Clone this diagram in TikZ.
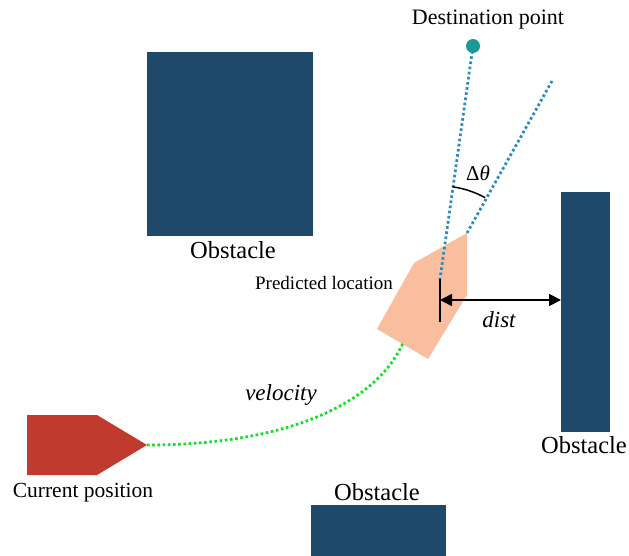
\documentclass[tikz,border=0pt]{standalone}
\usepackage{fontspec}
\setmainfont{Liberation Serif}
\usetikzlibrary{arrows.meta}
\definecolor{obst}{RGB}{30,73,106}
\definecolor{shipred}{RGB}{192,58,46}
\definecolor{salmon}{RGB}{249,190,158}
\definecolor{pathgreen}{RGB}{20,225,40}
\definecolor{rayblue}{RGB}{40,140,195}
\definecolor{goalteal}{RGB}{22,156,148}
\tikzset{
  obstacle/.style={fill=obst, draw=none},
  lbl/.style={inner sep=0pt, font=\fontsize{24.5}{28}\selectfont},
  dotline/.style={line width=2.8pt, dash pattern=on 2.6pt off 2.6pt},
}
\begin{document}
\begin{tikzpicture}[x=1pt, y=-1pt]
  \useasboundingbox (0,0) rectangle (629,556);
  \fill[white] (0,0) rectangle (629,556);

  % obstacles
  \fill[obstacle] (147,52) rectangle (313,236);
  \fill[obstacle] (561,192) rectangle (610,432);
  \fill[obstacle] (311,505) rectangle (446,556);
  \node[lbl] (obsA) at (233,250) {Obstacle};
  \node[lbl] (obsB) at (584,445) {Obstacle};
  \node[lbl] (obsC) at (377,492) {Obstacle};

  % current position
  \fill[shipred] (27,415) -- (97,415) -- (147,445) -- (97,475) -- (27,475) -- cycle;
  \coordinate (cur) at (147,445);
  \node[lbl, font=\fontsize{21.5}{25}\selectfont] (curlbl) at (83,493) {Current position};

  % predicted location
  \fill[salmon] (467,233) -- (467,295) -- (428,359) -- (377,329) -- (414,263) -- cycle;
  \coordinate (pred) at (403,343);
  \coordinate (tip) at (467,233);
  \coordinate (ref) at (440,279);
  \node[lbl, font=\fontsize{19}{23}\selectfont] (predlbl) at (324,283) {Predicted location};

  % velocity path
  \draw[pathgreen, dotline] (cur) .. controls (285,445) and (375,405) .. (pred);
  \node[lbl, font=\fontsize{23}{27}\selectfont\itshape] (vel) at (281,395) {velocity};

  % destination and heading rays
  \fill[goalteal] (473,46) ellipse (7 and 7);
  \coordinate (dest) at (473,46);
  \node[lbl, font=\fontsize{22}{26}\selectfont] (destlbl) at (488,20) {Destination point};
  \draw[rayblue, dotline] (dest) -- (ref);
  \coordinate (head) at (552,81);
  \draw[rayblue, dotline] (tip) -- (head);

  % heading error angle
  \draw[line width=1.5pt] (ref) ++(-82.2:93) arc[start angle=-82.2, end angle=-60.9, radius=93];
  \node[lbl, font=\fontsize{21}{25}\selectfont] (dth) at (478,173) {Δ\textit{θ}};

  % distance to obstacle
  \coordinate (refb) at (440,322);
  \draw[line width=1.8pt] (ref) -- (refb);
  \coordinate (d0) at (440,300);
  \coordinate (d1) at (561,300);
  \draw[line width=1.8pt, {Triangle[length=12pt,width=12pt]}-{Triangle[length=12pt,width=12pt]}] (d0) -- (d1);
  \node[lbl, font=\fontsize{23}{27}\selectfont\itshape] (dist) at (499,320) {dist};
\end{tikzpicture}
\end{document}
